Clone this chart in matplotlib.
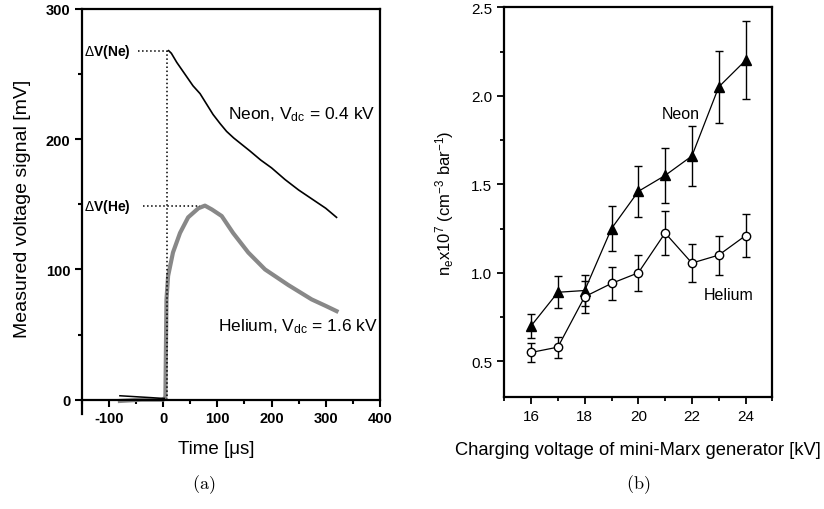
import matplotlib.pyplot as plt
from matplotlib.ticker import MultipleLocator

plt.rcParams['font.family'] = ['Liberation Sans', 'DejaVu Sans']
plt.rcParams['mathtext.fontset'] = 'custom'
plt.rcParams['mathtext.rm'] = 'Liberation Sans'
plt.rcParams['mathtext.it'] = 'Liberation Sans:italic'
plt.rcParams['axes.unicode_minus'] = False

# (a) time traces
t_ne_base = [-80, -60, -40, -20, -5, 2]
v_ne_base = [3, 2.5, 2, 1.5, 1, 1]
t_ne = [10, 15, 25, 35, 45, 55, 68, 80, 92, 105, 117, 130, 142, 160, 180, 200,
        225, 250, 275, 300, 320]
v_ne = [268, 266, 259, 253, 247, 241, 235, 227, 219, 212, 206, 201, 197, 191,
        184, 178, 169, 161, 154, 147, 140]
t_he = [-80, -60, -40, -20, 0, 4, 5, 6, 9, 18, 31, 46, 65, 77, 90, 108, 129,
        157, 188, 231, 274, 300, 320]
v_he = [-1, -0.5, 0, 0, 0, 2, 40, 77, 95, 113, 128, 140, 147, 149, 146, 141,
        128, 113, 100, 88, 77, 72, 68]
peak_ne = (10, 268)
peak_he = (77, 149)

# (b) electron density vs charging voltage
volt = [16, 17, 18, 19, 20, 21, 22, 23, 24]
neon = [0.70, 0.89, 0.90, 1.25, 1.46, 1.55, 1.66, 2.05, 2.20]
neon_err = [0.07, 0.09, 0.09, 0.125, 0.145, 0.155, 0.167, 0.205, 0.22]
helium = [0.55, 0.58, 0.865, 0.94, 1.00, 1.225, 1.055, 1.10, 1.21]
helium_err = [0.055, 0.06, 0.09, 0.095, 0.10, 0.125, 0.105, 0.11, 0.12]

fig = plt.figure(figsize=(8.24, 5.10), dpi=100)

# ---- panel (a)
ax1 = fig.add_axes([0.0995, 0.1863, 0.3615, 0.7941])
ax1.plot(t_he, v_he, color='#888888', lw=3, zorder=2)
ax1.plot(t_ne_base, v_ne_base, color='black', lw=1.1, zorder=3)
ax1.plot(t_ne, v_ne, color='black', lw=1.2, zorder=3)
ax1.plot([7, 7], [0, peak_ne[1]], ls=':', color='black', lw=1.1)
ax1.plot([-46, peak_ne[0]], [peak_ne[1]] * 2, ls=':', color='black', lw=1.1)
ax1.plot([-37, peak_he[0] - 10], [peak_he[1]] * 2, ls=':', color='black', lw=1.1)
ax1.text(-147, peak_ne[1], r'$\Delta$V(Ne)', fontsize=10, fontweight='bold', va='center')
ax1.text(-147, peak_he[1], r'$\Delta$V(He)', fontsize=10, fontweight='bold', va='center')
ax1.text(119, 220, r'Neon, V$_{\mathrm{dc}}$ = 0.4 kV', fontsize=12.5, va='center')
ax1.text(101, 57, r'Helium, V$_{\mathrm{dc}}$ = 1.6 kV', fontsize=12.5, va='center')

ax1.set_xlim(-150, 400)
ax1.set_ylim(-11, 300)
ax1.spines['bottom'].set_position(('data', 0))
ax1.spines['right'].set_bounds(0, 300)
for s in ax1.spines.values():
    s.set_linewidth(1.6)
ax1.xaxis.set_major_locator(MultipleLocator(100))
ax1.xaxis.set_minor_locator(MultipleLocator(50))
ax1.yaxis.set_major_locator(MultipleLocator(100))
ax1.yaxis.set_minor_locator(MultipleLocator(50))
ax1.tick_params(which='both', direction='out', width=1.5)
ax1.tick_params(which='major', length=5, labelsize=10.5)
ax1.tick_params(which='minor', length=3)
for lab in ax1.get_xticklabels() + ax1.get_yticklabels():
    lab.set_fontweight('bold')
ax1.set_ylabel('Measured voltage signal [mV]', fontsize=14)
ax1.yaxis.set_label_coords(-0.17, 0.51)
ax1.set_xlabel('Time [μs]', fontsize=13.5)
ax1.xaxis.set_label_coords(0.45, -0.065)

# ---- panel (b)
ax2 = fig.add_axes([0.612, 0.2202, 0.3253, 0.7635])
ax2.errorbar(volt, neon, yerr=neon_err, fmt='-^', color='black', lw=0.9,
             ms=6.5, mfc='black', capsize=3, elinewidth=1, capthick=1)
ax2.errorbar(volt, helium, yerr=helium_err, fmt='-o', color='black', lw=0.9,
             ms=6, mfc='white', capsize=3, elinewidth=1, capthick=1)
ax2.text(21.6, 1.9, 'Neon', fontsize=11.5, ha='center', va='center')
ax2.text(23.38, 0.88, 'Helium', fontsize=11.5, ha='center', va='center')

ax2.set_xlim(15, 25)
ax2.set_ylim(0.3, 2.5)
for s in ax2.spines.values():
    s.set_linewidth(1.6)
ax2.xaxis.set_major_locator(MultipleLocator(2))
ax2.xaxis.set_minor_locator(MultipleLocator(1))
ax2.yaxis.set_major_locator(MultipleLocator(0.5))
ax2.yaxis.set_minor_locator(MultipleLocator(0.25))
ax2.yaxis.set_major_formatter(plt.FormatStrFormatter('%.1f'))
ax2.tick_params(which='both', direction='out', width=1.3)
ax2.tick_params(which='major', length=5, labelsize=11)
ax2.tick_params(which='minor', length=3)
ax2.set_ylabel(r'n$_\mathrm{e}$x10$^7$ (cm$^{-3}$ bar$^{-1}$)', fontsize=12)
ax2.yaxis.set_label_coords(-0.18, 0.5)
ax2.set_xlabel('Charging voltage of mini-Marx generator [kV]', fontsize=13.2)
ax2.xaxis.set_label_coords(0.5, -0.115)

fig.text(0.247, 0.049, r'$\mathrm{(a)}$', fontsize=13, math_fontfamily='cm',
         ha='center', va='center')
fig.text(0.774, 0.049, r'$\mathrm{(b)}$', fontsize=13, math_fontfamily='cm',
         ha='center', va='center')

fig.savefig('out.png', dpi=100)
